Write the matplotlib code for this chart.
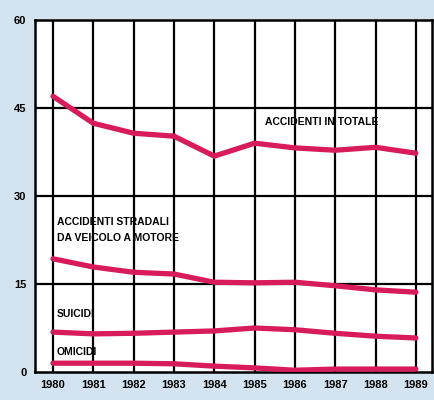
import numpy as np
import matplotlib
matplotlib.use('Agg')
import matplotlib.pyplot as plt

years = [1980, 1981, 1982, 1983, 1984, 1985, 1986, 1987, 1988, 1989]
totale = [47.0, 42.4, 40.7, 40.2, 36.8, 39.0, 38.2, 37.8, 38.3, 37.3]
stradali = [19.3, 17.9, 17.0, 16.7, 15.3, 15.2, 15.3, 14.7, 14.0, 13.6]
suicidi = [6.8, 6.5, 6.6, 6.8, 7.0, 7.5, 7.2, 6.6, 6.1, 5.8]
omicidi = [1.5, 1.5, 1.5, 1.4, 1.0, 0.7, 0.3, 0.5, 0.5, 0.5]
yticks = [0, 15, 30, 45, 60]

bg = '#d3e4f0'
red = '#d81b5a'
fnt = ['Liberation Sans', 'DejaVu Sans']

fig = plt.figure(figsize=(4.35, 4.0), dpi=100, facecolor=bg)
ax = fig.add_axes([0.080, 0.07, 0.913, 0.88])
ax.set_facecolor('white')

for y in years:
    ax.axvline(y, color='black', lw=1.6, zorder=1)
for y in yticks[1:-1]:
    ax.axhline(y, color='black', lw=1.6, zorder=1)

for serie in [totale, stradali, suicidi, omicidi]:
    ax.plot(years, serie, color=red, lw=3.8, solid_capstyle='round', zorder=3)

ax.set_xlim(1979.55, 1989.4)
ax.set_ylim(0, 60)
ax.set_xticks(years)
ax.set_xticklabels([str(y) for y in years], family=fnt, fontweight='bold', fontsize=8)
ax.set_yticks(yticks)
ax.set_yticklabels([str(y) for y in yticks], family=fnt, fontweight='bold', fontsize=8)
ax.tick_params(length=0, pad=6)
for s in ax.spines.values():
    s.set_linewidth(1.8)

kw = dict(family=fnt, fontweight='bold', fontsize=7.5, color='black', zorder=4)
ax.text(1986.66, 42.6, 'ACCIDENTI IN TOTALE', ha='center', va='center', **kw)
ax.text(1980.1, 25.6, 'ACCIDENTI STRADALI', ha='left', va='center', **kw)
ax.text(1980.1, 22.8, 'DA VEICOLO A MOTORE', ha='left', va='center', **kw)
ax.text(1980.1, 9.9, 'SUICIDI', ha='left', va='center', **kw)
ax.text(1980.1, 3.4, 'OMICIDI', ha='left', va='center', **kw)

fig.savefig('out.png', dpi=100, facecolor=bg)
